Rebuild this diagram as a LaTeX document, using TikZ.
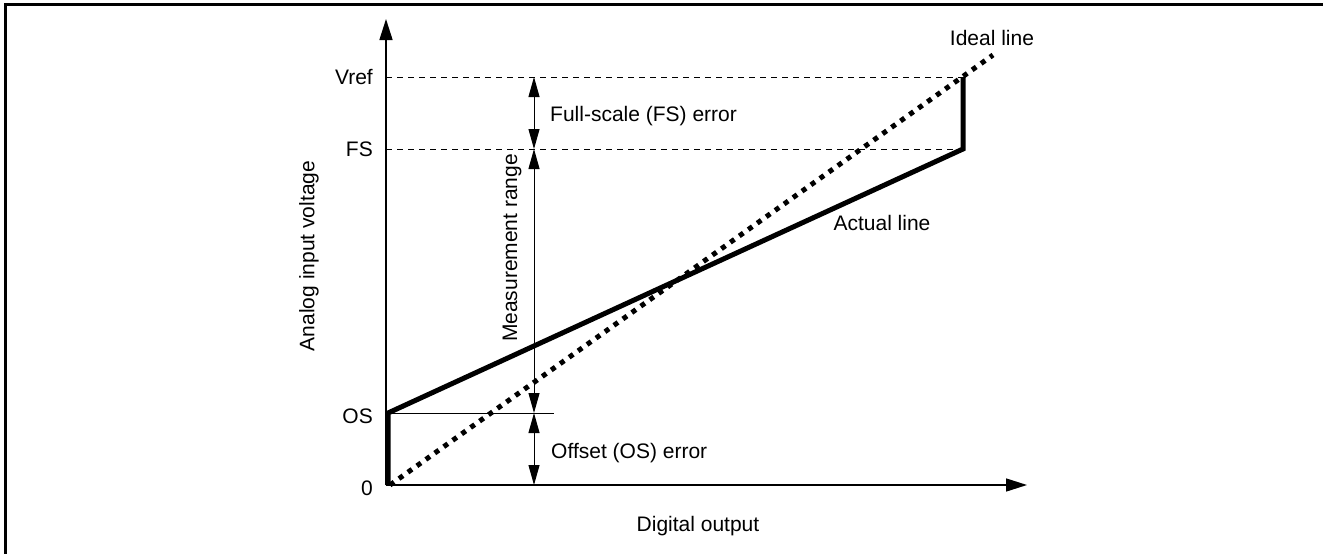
\documentclass[tikz,border=0pt]{standalone}
\usepackage{fontspec}
\setmainfont{Liberation Sans}
\usetikzlibrary{arrows.meta}

\begin{document}
\begin{tikzpicture}[x=1pt,y=-1pt,
		lbl/.style={font=\fontsize{21}{25}\selectfont, inner sep=0pt},
		axis/.style={-{Triangle[length=21pt,width=13pt]}, line width=1.5pt},
		dimarrow/.style={{Triangle[length=20pt,width=11pt]}-{Triangle[length=20pt,width=11pt]}, line width=1pt},
		actualline/.style={line width=5pt, line join=miter},
		idealline/.style={line width=5pt, dash pattern=on 5pt off 6pt},
		helpline/.style={line width=1pt, dash pattern=on 6pt off 5pt}]

		\useasboundingbox (0,0) rectangle (1323,554);
		\draw [line width=3pt] (5,554) -- (5,4) -- (1323,4);

		\coordinate (O) at (386,485);
		\coordinate (ytip) at (386,19);
		\coordinate (xtip) at (1027,485);
		\coordinate (osy) at (386,413);
		\coordinate (fsy) at (386,149);
		\coordinate (vrefy) at (386,77);
		\coordinate (osend) at (554,413);
		\coordinate (fsend) at (963,149);
		\coordinate (vrefend) at (963,77);
		\coordinate (act0) at (388,485);
		\coordinate (act1) at (388,413);
		\coordinate (ideal0) at (390,485);
		\coordinate (ideal1) at (993,55);

		\draw [axis] (O) -- (ytip);
		\draw [axis] (O) -- (xtip);

		\draw [helpline] (vrefy) -- (vrefend);
		\draw [helpline] (fsy) -- (fsend);
		\draw [line width=1pt] (osy) -- (osend);

		\draw [idealline] (ideal0) -- (ideal1);
		\draw [actualline] (act0) -- (act1) -- (fsend) -- (vrefend);

		\foreach \name/\yy in {d0/485,dos/413,dfs/149,dvref/77}{
				\coordinate (\name) at (534,\yy);
			}
		\draw [dimarrow] (dvref) -- (dfs);
		\draw [dimarrow] (dfs) -- (dos);
		\draw [dimarrow] (dos) -- (d0);

		\node [lbl, anchor=east] (vref) at (373,77) {Vref};
		\node [lbl, anchor=east] (fs) at (373,149) {FS};
		\node [lbl, anchor=east] (os) at (373,416) {OS};
		\node [lbl, anchor=east] (zero) at (373,488) {0};

		\node [lbl, rotate=90] (ylabel) at (309,256) {Analog input voltage};
		\node [lbl] (xlabel) at (698,526) {Digital output};
		\node [lbl, rotate=90] (mrange) at (512,248) {Measurement range};
		\node [lbl, anchor=west] (fserr) at (550,116) {Full-scale (FS) error};
		\node [lbl, anchor=west] (oserr) at (551,453) {Offset (OS) error};
		\node [lbl] (ideallbl) at (992,38) {Ideal line};
		\node [lbl] (actuallbl) at (882,223) {Actual line};

		\end{tikzpicture}
\end{document}
